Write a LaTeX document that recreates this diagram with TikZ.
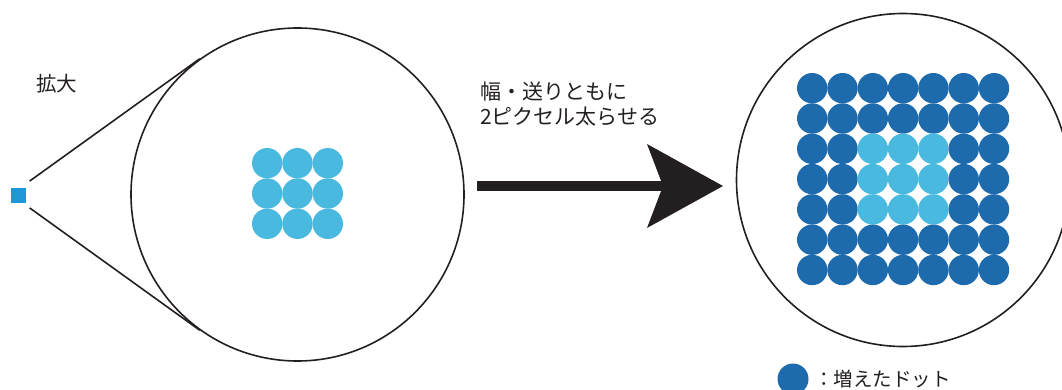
\documentclass[tikz,border=0pt]{standalone}
\usepackage{fontspec}
\newfontfamily\jp{Noto Sans CJK JP}
\usetikzlibrary{arrows.meta,calc}
\definecolor{lightdot}{RGB}{74,185,224}
\definecolor{darkdot}{RGB}{29,106,173}
\definecolor{pixblue}{RGB}{33,150,215}
\definecolor{ink}{RGB}{35,31,32}
\begin{document}
\begin{tikzpicture}[x=1pt,y=-1pt,
  lens/.style={circle,draw=ink,line width=1.6pt,minimum size=333pt,inner sep=0pt},
  dot/.style={circle,minimum size=30.4pt,inner sep=0pt,draw=none},
  txt/.style={anchor=base west,inner sep=0pt,text=ink},
  guide/.style={draw=ink,line width=1.6pt}]
\clip (0,0) rectangle (1062,390);
% lenses
\node[lens] (c1) at (297.5,194.5) {};
\node[lens] (c2) at (903,180) {};
% source pixel
\node[fill=pixblue,minimum size=15pt,inner sep=0pt] (px) at (18.5,195.5) {};
\coordinate (p) at (11,194.5);
\coordinate (t1) at (tangent cs:node=c1,point={(p)},solution=1);
\coordinate (t2) at (tangent cs:node=c1,point={(p)},solution=2);
\draw[guide] ($(p)!23pt!(t1)$) -- (t1);
\draw[guide] ($(p)!23pt!(t2)$) -- (t2);
% original dots
\foreach \i in {0,1,2}{\foreach \j in {0,1,2}{
  \node[dot,fill=lightdot] (a\i\j) at (267.2+30.3*\i,163.2+30.3*\j) {};}}
% widened dots
\foreach \i in {0,...,6}{\foreach \j in {0,...,6}{
  \pgfmathtruncatemacro\inn{(\i>1)&&(\i<5)&&(\j>1)&&(\j<5)}
  \ifnum\inn=1 \def\dc{lightdot}\else\def\dc{darkdot}\fi
  \node[dot,fill=\dc] (b\i\j) at (812.2+30.3*\i,88.2+30.3*\j) {};}}
% arrow
\coordinate (as) at (477,186);
\coordinate (ae) at (723,186);
\draw[ink,line width=10pt,-{Stealth[length=76pt,width=84pt,inset=16pt,line width=0pt]}] (as) -- (ae);
% texts
\node[txt,font=\jp\fontsize{20.5}{25}\selectfont] (zl) at (36,92) {拡大};
\node[txt,font=\jp\fontsize{21}{25}\selectfont] (l1) at (480,100) {幅・送りともに};
\node[txt,font=\jp\fontsize{21}{25}\selectfont] (l2) at (480,125) {2ピクセル太らせる};
% legend
\node[dot,fill=darkdot,minimum size=31pt] (leg) at (793,379) {};
\node[txt,font=\jp\fontsize{19.5}{25}\selectfont] (legt) at (814,386) {：増えたドット};
\end{tikzpicture}
\end{document}
